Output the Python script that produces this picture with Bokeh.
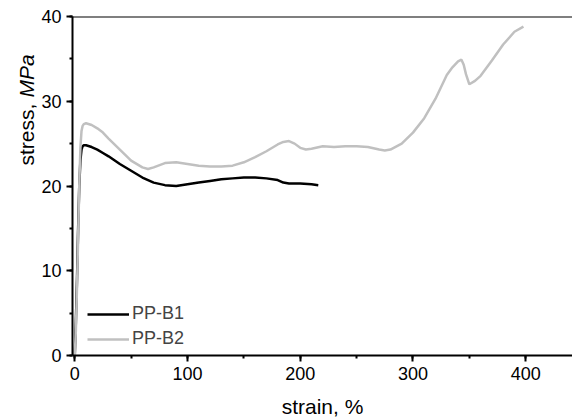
from bokeh.plotting import figure
from bokeh.layouts import row
from bokeh.models import SingleIntervalTicker, Span, Label, Range1d, Legend
from bokeh.embed import file_html
from bokeh.resources import INLINE
import math

# ---- data ----
b1_strain = [0, 1, 2, 3, 4, 5, 6, 7, 8, 10, 15, 20, 25, 30, 40, 50, 60, 70, 80, 90,
             100, 110, 120, 130, 140, 150, 160, 170, 180, 185, 190, 200, 210, 216]
b1_stress = [0, 4, 9, 15, 20, 23, 24.3, 24.7, 24.8, 24.8, 24.6, 24.3, 23.9, 23.5, 22.6,
             21.8, 21.0, 20.4, 20.1, 20.0, 20.2, 20.4, 20.6, 20.8, 20.9, 21.0, 21.0,
             20.9, 20.7, 20.4, 20.3, 20.3, 20.2, 20.1]

b2_strain = [0, 1, 2, 3, 4, 5, 6, 7, 8, 10, 15, 20, 25, 30, 40, 50, 60, 65, 70, 80, 90,
             100, 110, 120, 130, 140, 150, 160, 170, 180, 185, 190, 195, 200, 205, 210,
             220, 230, 240, 250, 260, 270, 275, 280, 290, 300, 310, 320, 330, 335, 340,
             343, 345, 347, 350, 355, 360, 370, 380, 390, 398]
b2_stress = [0, 3, 8, 14, 20, 24.5, 26.5, 27.1, 27.3, 27.4, 27.2, 26.8, 26.3, 25.6, 24.3,
             23.0, 22.2, 22.0, 22.2, 22.7, 22.8, 22.6, 22.4, 22.3, 22.3, 22.4, 22.8, 23.4,
             24.1, 24.9, 25.2, 25.3, 25.0, 24.5, 24.3, 24.4, 24.7, 24.6, 24.7, 24.7, 24.6,
             24.3, 24.2, 24.3, 25.0, 26.3, 28.0, 30.3, 33.1, 34.0, 34.7, 34.9, 34.3, 33.2,
             32.0, 32.4, 33.0, 34.8, 36.7, 38.2, 38.8]

series_names = ["PP-B1", "PP-B2"]
series_colors = ["#000000", "#c0c0c0"]
y_title_plain = "stress, "
y_title_italic = "MPa"
x_title = "strain, %"

FONT = "Liberation Sans"
LEFT_W = 38

# ---- narrow strip holding the y-axis title (upright + italic parts) ----
ylab = figure(width=LEFT_W, height=420, output_backend="svg", toolbar_location=None,
              x_axis_type=None, y_axis_type=None, min_border=0,
              x_range=Range1d(0, 1), y_range=Range1d(0, 1))
ylab.outline_line_color = None
ylab.xgrid.visible = False
ylab.ygrid.visible = False
ylab.border_fill_color = "white"
ylab.background_fill_color = "white"
lab1 = Label(x=26, y=190, x_units="screen", y_units="screen", text=y_title_plain,
             angle=math.pi / 2, text_align="left", text_baseline="middle",
             text_font=FONT, text_font_size="21px", text_color="black")
lab2 = Label(x=26, y=190 + 68, x_units="screen", y_units="screen", text=y_title_italic,
             angle=math.pi / 2, text_align="left", text_baseline="middle",
             text_font=FONT, text_font_size="21px", text_font_style="italic",
             text_color="black")
ylab.add_layout(lab1)
ylab.add_layout(lab2)

# ---- main chart ----
p = figure(width=572 - LEFT_W, height=420, output_backend="svg", toolbar_location=None,
           x_range=Range1d(-2, 441.5), y_range=Range1d(0, 40),
           min_border_left=71 - LEFT_W, min_border_right=0, min_border_top=16,
           min_border_bottom=65)
p.outline_line_color = None
p.xgrid.visible = False
p.ygrid.visible = False
p.background_fill_color = "white"
p.border_fill_color = "white"

r1 = p.line(b1_strain, b1_stress, line_color=series_colors[0], line_width=2.5)
r2 = p.line(b2_strain, b2_stress, line_color=series_colors[1], line_width=2.5)

for ax, interval in ((p.xaxis[0], 100), (p.yaxis[0], 10)):
    ax.ticker = SingleIntervalTicker(interval=interval, num_minor_ticks=2)
    ax.axis_line_width = 2
    ax.axis_line_color = "black"
    ax.major_tick_line_width = 2
    ax.minor_tick_line_width = 2
    ax.major_tick_in = 0
    ax.major_tick_out = 6
    ax.minor_tick_in = 0
    ax.minor_tick_out = 3
    ax.major_label_text_font = FONT
    ax.major_label_text_font_size = "18px"
    ax.major_label_text_color = "black"
    ax.major_label_standoff = 5

p.xaxis.axis_label = x_title
p.xaxis.axis_label_text_font = FONT
p.xaxis.axis_label_text_font_size = "21px"
p.xaxis.axis_label_text_font_style = "normal"
p.xaxis.axis_label_text_color = "black"
p.xaxis.axis_label_standoff = 12

top = Span(location=40, dimension="width", line_color="black", line_width=2)
p.add_layout(top)

legend = Legend(items=[(series_names[0], [r1]), (series_names[1], [r2])],
                location=(15, 6), margin=0, padding=0, spacing=4,
                glyph_width=42, glyph_height=20, label_height=20, label_standoff=3,
                label_text_font=FONT, label_text_font_size="18px",
                background_fill_alpha=0, border_line_color=None)
p.add_layout(legend)

layout = row(ylab, p, spacing=0)
open("out.html", "w").write(file_html(layout, INLINE))
